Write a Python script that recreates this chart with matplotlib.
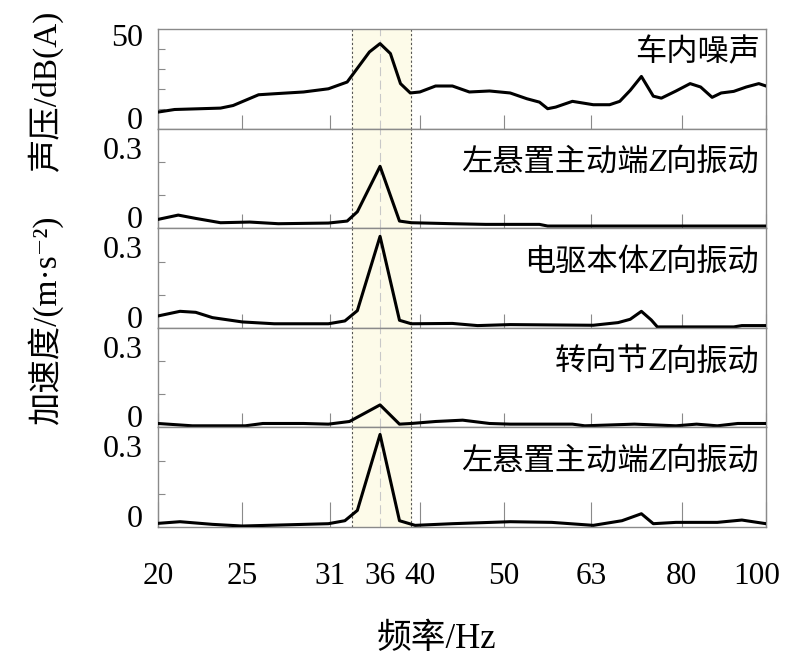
import matplotlib
matplotlib.use('Agg')
import matplotlib.pyplot as plt
import matplotlib.transforms as mtransforms
import numpy as np

plt.rcParams['font.family'] = ['Liberation Serif', 'Noto Sans CJK SC', 'DejaVu Serif']

# 车内噪声 (dB(A))
f1 = [20, 20.9, 23.6, 24.4, 26.1, 27.2, 29.4, 31.4, 33.0, 35.0, 36.0, 37.0, 38.0, 39.0,
      40.0, 41.7, 43.6, 45.6, 48.1, 50.8, 53.1, 54.9, 56.1, 57.3, 59.9, 63.3, 66.1, 67.9,
      69.8, 71.9, 74.2, 75.8, 78.8, 81.8, 84.1, 86.7, 88.8, 91.8, 94.9, 98.1, 100]
v1 = [8.4, 9.7, 10.4, 11.7, 17.1, 17.6, 18.5, 20.1, 23.5, 38.6, 42.8, 37.8, 22.7, 18.0,
      18.5, 21.5, 21.5, 18.5, 19.0, 18.0, 15.1, 13.4, 10.1, 10.9, 13.8, 12.1, 12.1, 13.8,
      19.3, 26.3, 16.4, 15.4, 19.0, 22.7, 21.0, 15.8, 18.0, 18.8, 21.0, 22.7, 21.5]

# 左悬置主动端Z向振动
f2 = [20, 21.1, 22.1, 23.6, 25.5, 27.5, 31.4, 33.0, 33.9, 36.0, 37.9, 39.1, 43.6, 47.6,
      54.9, 56.1, 100]
v2 = [0.027, 0.040, 0.030, 0.017, 0.019, 0.014, 0.016, 0.022, 0.050, 0.187, 0.022, 0.017,
      0.014, 0.012, 0.012, 0.007, 0.007]

# 电驱本体Z向振动
f3 = [20, 21.2, 22.1, 23.1, 25.0, 27.2, 31.4, 32.8, 33.9, 36.0, 37.9, 39.1, 43.6, 46.6,
      50.8, 63.3, 67.6, 69.8, 71.9, 73.8, 75.0, 91.8, 93.8, 100]
v3 = [0.036, 0.050, 0.047, 0.031, 0.018, 0.0125, 0.0125, 0.021, 0.052, 0.276, 0.023, 0.0125,
      0.0135, 0.007, 0.010, 0.008, 0.016, 0.026, 0.050, 0.024, 0.003, 0.003, 0.007, 0.007]

# 转向节Z向振动
f4 = [20, 21.9, 25.2, 26.4, 29.4, 31.4, 33.2, 36.0, 37.9, 39.1, 41.7, 44.8, 48.1, 50.8,
      59.9, 61.9, 70.6, 78.8, 83.2, 87.9, 92.8, 100]
v4 = [0.012, 0.005, 0.005, 0.012, 0.012, 0.010, 0.018, 0.068, 0.010, 0.012, 0.018, 0.022,
      0.012, 0.010, 0.010, 0.005, 0.010, 0.005, 0.010, 0.005, 0.012, 0.012]

# 左悬置主动端Z向振动 (second)
f5 = [20, 21.2, 23.1, 25.0, 28.5, 31.4, 32.8, 33.9, 36.0, 37.9, 39.5, 43.6, 50.8, 56.7,
      63.3, 68.3, 71.9, 74.2, 78.8, 87.9, 93.8, 100]
v5 = [0.011, 0.016, 0.008, 0.003, 0.007, 0.010, 0.019, 0.050, 0.279, 0.019, 0.005, 0.010,
      0.016, 0.014, 0.005, 0.019, 0.040, 0.010, 0.014, 0.014, 0.021, 0.010]

series = [(f1, v1), (f2, v2), (f3, v3), (f4, v4), (f5, v5)]
names = ['车内噪声', '左悬置主动端Z向振动', '电驱本体Z向振动', '转向节Z向振动',
         '左悬置主动端Z向振动']
ytops = [50, 0.3, 0.3, 0.3, 0.3]
ytoplabels = ['50', '0.3', '0.3', '0.3', '0.3']
yminor = [[10, 20, 30, 40], [0.1, 0.2], [0.1, 0.2], [0.1, 0.2], [0.1, 0.2]]

xticks = [20, 25, 31.5, 40, 50, 63, 80, 100]
xticklabels = ['20', '25', '31', '40', '50', '63', '80', '100']
band = (33.4, 39.1)
fpeak = 36

fig = plt.figure(figsize=(7.86, 6.65), dpi=100)
gs = fig.add_gridspec(5, 1, left=0.201, right=0.9746, top=0.956, bottom=0.2075, hspace=0)
frame = '#8a8a8a'
fs_name = 22.5
fs_y = 23
fs_x = 22.5


def draw_name(ax, y, text):
    parts = text.split('Z')
    if len(parts) == 1:
        ax.text(0.99, y, text, transform=ax.transAxes, ha='right', va='baseline',
                fontsize=fs_name)
        return
    t = ax.text(0.99, y, parts[1], transform=ax.transAxes, ha='right', va='baseline',
                fontsize=fs_name)
    t = ax.annotate('Z', xy=(0, 0), xycoords=t, ha='right', va='bottom',
                    fontsize=fs_name, family='Liberation Serif', fontstyle='italic')
    ax.annotate(parts[0], xy=(0, 0), xycoords=t, ha='right', va='bottom', fontsize=fs_name)


for i, (f, v) in enumerate(series):
    ax = fig.add_subplot(gs[i])
    ax.set_xscale('log')
    ax.set_xlim(20, 100)
    ax.set_ylim(0, ytops[i])
    ax.axvspan(band[0], band[1], color='#fdfbe9', zorder=0)
    ax.axvline(band[0], color='#555555', lw=0.8, ls=(0, (2, 2)), zorder=1)
    ax.axvline(band[1], color='#555555', lw=0.8, ls=(0, (2, 2)), zorder=1)
    ax.axvline(fpeak, color='#c8c8c8', lw=0.8, ls=(0, (8, 4)), zorder=1)
    ax.plot(f, v, color='black', lw=2.2, zorder=3)

    for s in ax.spines.values():
        s.set_color(frame)
        s.set_linewidth(1.0)

    ax.set_xticks(xticks)
    ax.xaxis.set_minor_locator(matplotlib.ticker.NullLocator())
    ax.tick_params(axis='x', which='major', direction='in', length=18 if i == 4 else 10,
                   color=frame, width=0.8, labelsize=fs_x, pad=25)
    if i == 4:
        ax.set_xticklabels(xticklabels)
        ax.set_xticks([fpeak], ['36'], minor=True)
        ax.tick_params(axis='x', which='minor', length=0, labelsize=fs_x, pad=25)
        lab = ax.get_xticklabels()[-1]
        lab.set_transform(lab.get_transform() +
                          mtransforms.ScaledTranslation(-9 / 100, 0, fig.dpi_scale_trans))
    else:
        ax.set_xticklabels([])

    ax.set_yticks([])
    ax.set_yticks(yminor[i], minor=True)
    ax.tick_params(axis='y', which='minor', direction='in', length=5, color=frame, width=0.8)
    ax.yaxis.set_minor_formatter(matplotlib.ticker.NullFormatter())
    ax.text(-0.025, 0, '0', transform=ax.transAxes, ha='right', va='baseline', fontsize=fs_y)
    tr = mtransforms.offset_copy(ax.transAxes, fig=fig, x=0, y=5 if i == 0 else -8,
                                 units='dots')
    ax.text(-0.025, 1, ytoplabels[i], transform=tr, ha='right', va='top', fontsize=fs_y)

    draw_name(ax, 0.68 if i == 0 else 0.575, names[i])

fig.text(0.057, 0.862, '声压/dB(A)', rotation=90, ha='center', va='center', fontsize=24)
fig.text(0.057, 0.519, '加速度/(m·s⁻²)', rotation=90, ha='center', va='center',
         fontsize=24)
fig.text(0.555, 0.038, '频率/Hz', ha='center', va='center', fontsize=25)

fig.savefig('out.png', dpi=100)
